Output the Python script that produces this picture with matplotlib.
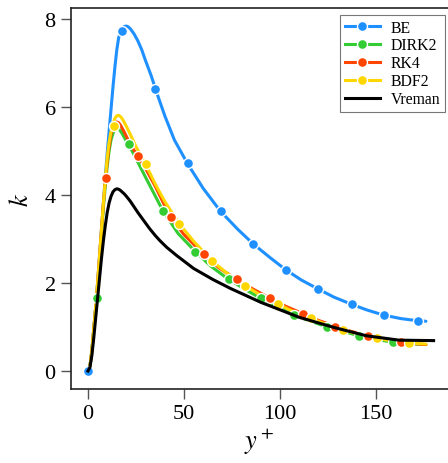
import matplotlib
matplotlib.use("Agg")
import matplotlib.pyplot as plt
from matplotlib.lines import Line2D

plt.rcParams['font.family'] = ['Liberation Serif', 'DejaVu Serif']
plt.rcParams['mathtext.fontset'] = 'stix'

# ---- data ----
series_names = ["BE", "DIRK2", "RK4", "BDF2", "Vreman"]
series_colors = ["#1E90FF", "#33CC33", "#FF4500", "#FFD700", "#000000"]

# BE
be_x = [0, 1, 2, 3, 4, 5, 6, 7, 8, 9, 10, 11, 12, 13, 14, 15, 16, 17, 18, 19, 20, 21, 22, 24, 26, 28, 30, 33, 36, 40, 45, 52, 60, 69, 78, 86, 95, 103, 111, 120, 128, 137, 145, 154, 163, 172, 176]
be_y = [0, 0.1, 0.45, 0.95, 1.45, 2.0, 2.6, 3.2, 3.8, 4.4, 4.95, 5.45, 5.95, 6.45, 6.9, 7.3, 7.58, 7.72, 7.8, 7.83, 7.84, 7.82, 7.78, 7.66, 7.5, 7.3, 7.05, 6.7, 6.3, 5.8, 5.25, 4.7, 4.15, 3.63, 3.22, 2.89, 2.57, 2.30, 2.07, 1.86, 1.68, 1.52, 1.39, 1.27, 1.19, 1.14, 1.13]
be_mx = [0, 17.5, 34.7, 51.9, 69.1, 86.1, 103.1, 120.0, 137.3, 154.3, 171.7]
be_my = [0, 7.72, 6.40, 4.72, 3.63, 2.89, 2.30, 1.86, 1.52, 1.27, 1.14]

# DIRK2
dirk_x = [0, 1, 2, 3, 4, 5, 6, 7, 8, 9, 10, 11, 12, 13, 14, 15, 16, 17, 18, 19, 20, 22, 25, 30, 35, 39, 47, 56, 64, 73, 82, 90, 99, 107, 116, 124, 133, 141, 150, 159, 167, 176]
dirk_y = [0, 0.1, 0.45, 0.95, 1.4, 1.8, 2.45, 3.1, 3.7, 4.2, 4.65, 5.0, 5.25, 5.4, 5.48, 5.51, 5.5, 5.45, 5.38, 5.3, 5.22, 5.08, 4.83, 4.4, 3.98, 3.64, 3.12, 2.71, 2.38, 2.09, 1.85, 1.65, 1.45, 1.27, 1.13, 1.01, 0.90, 0.80, 0.72, 0.65, 0.62, 0.60]
dirk_mx = [4.7, 21.4, 38.9, 55.7, 73.4, 90.1, 107.5, 124.3, 141.3, 158.7]
dirk_my = [1.65, 5.17, 3.64, 2.71, 2.09, 1.65, 1.27, 1.01, 0.80, 0.65]

# RK4
rk4_x = [0, 1, 2, 3, 4, 5, 6, 7, 8, 9, 10, 11, 12, 13, 14, 15, 16, 17, 18, 19, 20, 22, 26, 30, 35, 43, 50, 60, 68, 77, 86, 95, 103, 112, 120, 129, 137, 146, 155, 163, 170, 176]
rk4_y = [0, 0.1, 0.45, 0.95, 1.45, 2.0, 2.6, 3.2, 3.8, 4.3, 4.75, 5.1, 5.38, 5.55, 5.63, 5.66, 5.64, 5.58, 5.5, 5.42, 5.33, 5.15, 4.88, 4.6, 4.2, 3.49, 3.1, 2.66, 2.35, 2.09, 1.86, 1.65, 1.47, 1.30, 1.15, 1.01, 0.90, 0.80, 0.72, 0.65, 0.62, 0.60]
rk4_mx = [9.2, 26.0, 43.2, 60.4, 77.4, 94.8, 111.8, 128.6, 146.0, 163.0]
rk4_my = [4.39, 4.88, 3.49, 2.66, 2.09, 1.65, 1.30, 1.01, 0.80, 0.65]

# BDF2
bdf_x = [0, 1, 2, 3, 4, 5, 6, 7, 8, 9, 10, 11, 12, 13, 14, 15, 16, 17, 18, 19, 20, 22, 25, 30, 35, 40, 47.6, 55, 64.8, 73, 81.8, 90, 98.8, 107, 116, 124, 133, 141, 150, 159, 167, 176]
bdf_y = [0, 0.1, 0.45, 0.95, 1.45, 2.0, 2.6, 3.2, 3.8, 4.35, 4.85, 5.2, 5.45, 5.62, 5.74, 5.8, 5.81, 5.78, 5.72, 5.64, 5.56, 5.38, 5.1, 4.7, 4.25, 3.85, 3.34, 2.95, 2.49, 2.2, 1.94, 1.72, 1.52, 1.35, 1.20, 1.06, 0.93, 0.83, 0.74, 0.68, 0.64, 0.61]
bdf_mx = [13.4, 30.4, 47.6, 64.8, 81.8, 98.8, 116.1, 133.0, 150.3, 167.4]
bdf_my = [5.56, 4.70, 3.34, 2.49, 1.94, 1.52, 1.20, 0.93, 0.74, 0.64]

# Vreman
vre_x = [0, 1, 2, 3, 4, 5, 6, 7, 8, 9, 10, 11, 12, 13, 14, 15, 16, 17, 18, 19, 20, 22, 24, 26, 28, 30, 32, 35, 37.5, 41, 46, 55, 65, 74, 90, 110, 128, 145, 162, 180]
vre_y = [0, 0.08, 0.35, 0.75, 1.2, 1.65, 2.1, 2.55, 2.95, 3.3, 3.6, 3.82, 3.97, 4.07, 4.12, 4.14, 4.13, 4.1, 4.06, 4.02, 3.97, 3.86, 3.73, 3.6, 3.48, 3.36, 3.24, 3.08, 2.96, 2.81, 2.63, 2.33, 2.08, 1.88, 1.56, 1.22, 0.99, 0.80, 0.70, 0.69]

xticks = [0, 50, 100, 150]
yticks = [0, 2, 4, 6, 8]

# ---- figure ----
fig = plt.figure(figsize=(4.48, 4.64), dpi=100)
ax = fig.add_axes([71 / 448, 1 - 390 / 464, 1 - 71 / 448, (390 - 9) / 464])

lw = 2.2
ms = 7.2
lines = [(be_x, be_y, be_mx, be_my), (dirk_x, dirk_y, dirk_mx, dirk_my),
         (rk4_x, rk4_y, rk4_mx, rk4_my), (bdf_x, bdf_y, bdf_mx, bdf_my)]
handles = []
for (lx, ly, mx, my), name, c in zip(lines, series_names[:4], series_colors[:4]):
    ax.plot(lx, ly, color=c, lw=lw, solid_capstyle='round', solid_joinstyle='round', zorder=2)
    ax.plot(mx, my, ls='none', marker='o', ms=ms, mfc=c, mec='white', mew=1.0, zorder=3)
    handles.append(Line2D([], [], color=c, lw=lw, marker='o', ms=ms, mfc=c, mec='white', mew=1.0))
ax.plot(vre_x, vre_y, color='black', lw=lw, solid_joinstyle='round', zorder=4)
handles.append(Line2D([], [], color='black', lw=lw))

ax.set_xlim(-8.85, 187.5)
ax.set_ylim(-0.41, 8.25)
ax.set_xticks(xticks)
ax.set_yticks(yticks)
ax.tick_params(direction='out', length=7, width=1.0, color='#555555', labelsize=16, pad=4)
ax.spines['right'].set_visible(False)
for s in ['left', 'bottom', 'top']:
    ax.spines[s].set_linewidth(1.2)
    ax.spines[s].set_color('#222222')

ax.set_xlabel(r'$y^+$', fontsize=19, labelpad=2)
ax.set_ylabel(r'$k$', fontsize=19, labelpad=8)

leg = ax.legend(handles, series_names, loc='upper right', bbox_to_anchor=(0.993, 0.982),
                fontsize=11.3, frameon=True, fancybox=False, edgecolor='#555555',
                handlelength=2.25, handletextpad=0.7, borderpad=0.3, labelspacing=0.12,
                borderaxespad=0.0)
leg.get_frame().set_linewidth(0.8)

fig.savefig('out.png', dpi=100)
